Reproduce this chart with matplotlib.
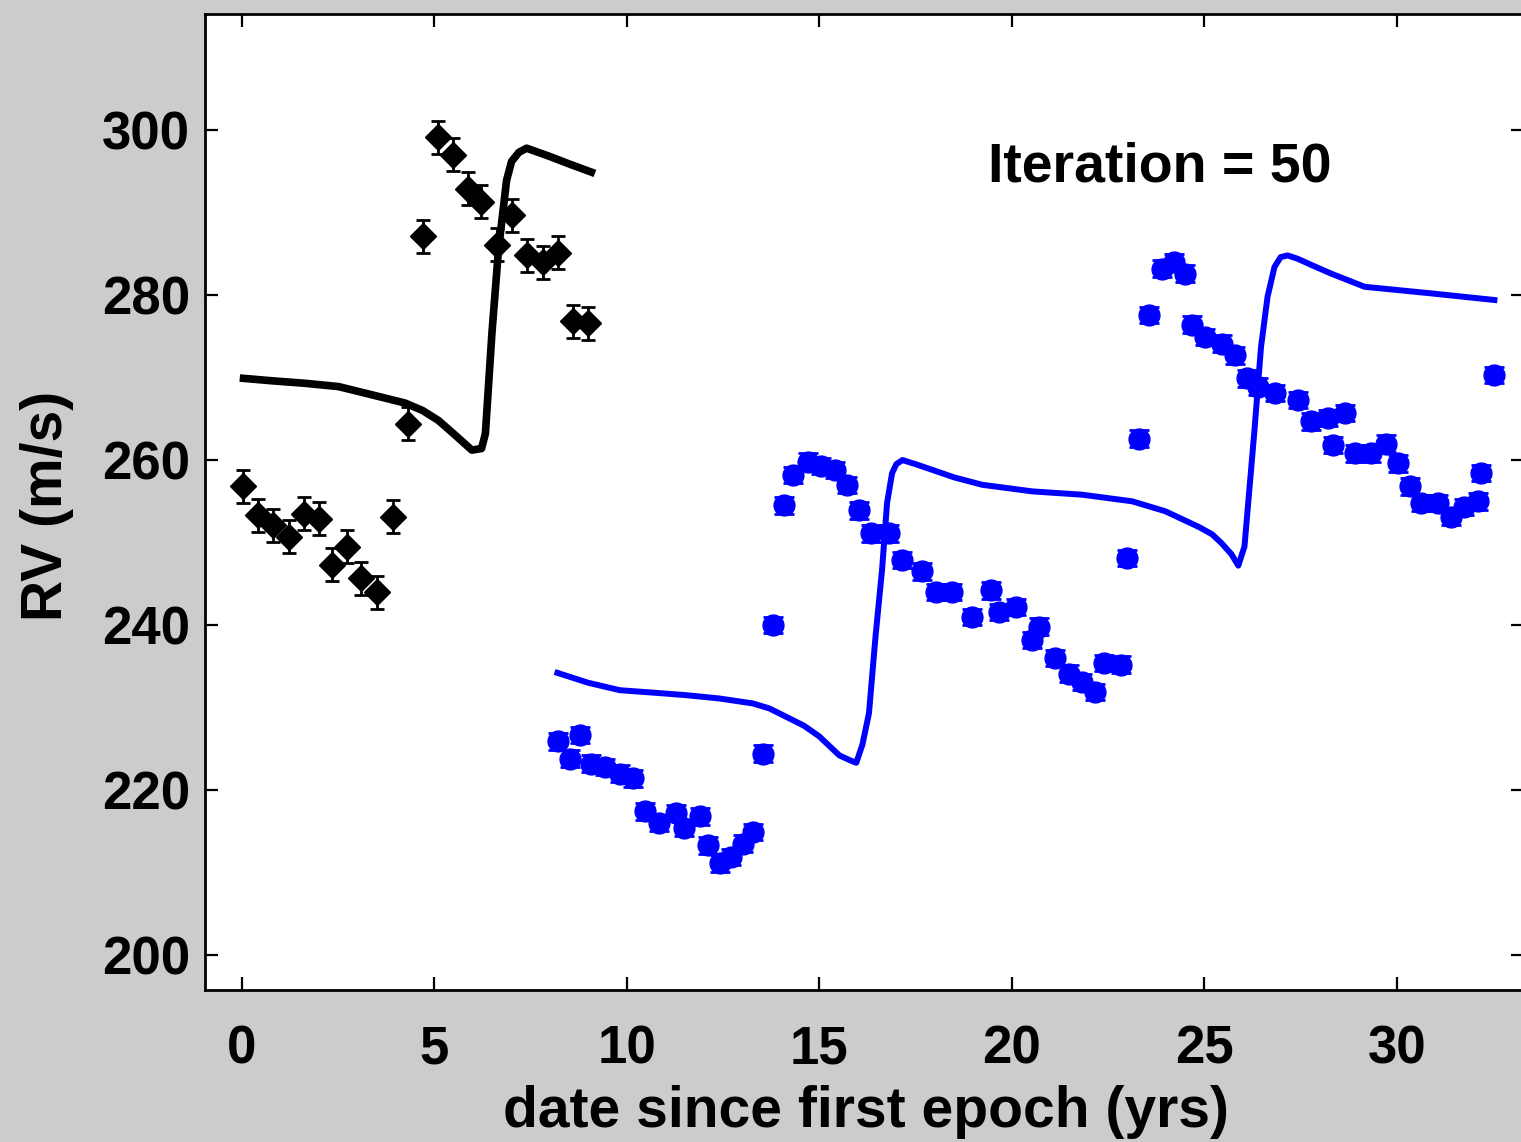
"""RV time series with model curve (Iteration = 50)."""

import matplotlib
matplotlib.use("Agg")
import matplotlib.pyplot as plt

# ── data ───────────────────────────────────────────────────────────────
black_t = [0.03, 0.43, 0.82, 1.23, 1.63, 2.00, 2.35, 2.74, 3.10, 3.51, 3.92, 4.31,
           4.71, 5.11, 5.50, 5.89, 6.22, 6.62, 7.01, 7.40, 7.83, 8.22, 8.61, 9.00]
black_rv = [256.8, 253.3, 252.1, 250.7, 253.5, 252.9, 247.3, 249.5, 245.7, 244.0, 253.1, 264.4,
            287.1, 299.1, 297.0, 292.9, 291.3, 286.1, 289.7, 284.8, 284.0, 285.1, 276.8, 276.6]
black_err = [2.0, 2.0, 2.0, 2.0, 2.0, 2.0, 2.0, 2.0, 2.0, 2.0, 2.0, 2.0,
             2.0, 2.0, 2.0, 2.0, 2.0, 2.0, 2.0, 2.0, 2.0, 2.0, 2.0, 2.0]

black_model_t = [0.05, 0.80, 1.65, 2.52, 3.39, 4.25, 4.70, 5.11, 5.55, 5.98, 6.23, 6.33, 6.50,
                 6.67, 6.88, 7.01, 7.20, 7.40, 8.00, 8.50, 9.08]
black_model_rv = [269.9, 269.6, 269.3, 268.9, 267.9, 266.9, 266.0, 264.8, 263.0, 261.2, 261.4,
                  263.2, 275.4, 285.5, 293.9, 296.2, 297.3, 297.8, 296.8, 295.9, 294.9]

blue_t = [8.22, 8.52, 8.78, 9.08, 9.43, 9.82, 10.16, 10.47, 10.85, 11.29, 11.50, 11.89,
          12.11, 12.41, 12.71, 13.01, 13.27, 13.53, 13.79, 14.09, 14.31, 14.70, 15.05, 15.40,
          15.73, 16.04, 16.34, 16.81, 17.16, 17.68, 18.02, 18.45, 18.97, 19.45, 19.66, 20.10,
          20.53, 20.70, 21.13, 21.48, 21.82, 22.17, 22.40, 22.83, 22.99, 23.29, 23.55, 23.90,
          24.20, 24.50, 24.67, 25.02, 25.45, 25.80, 26.10, 26.40, 26.83, 27.44, 27.78, 28.21,
          28.34, 28.64, 28.90, 29.33, 29.72, 30.03, 30.33, 30.63, 31.06, 31.41, 31.75, 32.10,
          32.19, 32.53]
blue_rv = [225.9, 223.8, 226.7, 223.2, 222.8, 222.0, 221.4, 217.4, 216.0, 217.2, 215.4, 216.8,
           213.3, 211.1, 211.9, 213.5, 214.9, 224.4, 240.0, 254.5, 258.2, 259.8, 259.3, 258.8,
           257.0, 253.9, 251.1, 251.1, 247.9, 246.5, 244.0, 244.0, 241.0, 244.2, 241.6, 242.2,
           238.2, 239.8, 236.0, 234.1, 233.1, 231.9, 235.4, 235.2, 248.1, 262.6, 277.6, 283.2,
           284.0, 282.6, 276.4, 274.9, 274.1, 272.7, 269.9, 268.9, 268.1, 267.3, 264.7, 265.1,
           261.8, 265.7, 260.8, 260.8, 262.0, 259.6, 256.8, 254.8, 254.8, 253.1, 254.3, 255.0,
           258.4, 270.3]
blue_err = [1.0, 1.0, 1.0, 1.0, 1.0, 1.0, 1.0, 1.0, 1.0, 1.0, 1.0, 1.0,
            1.0, 1.0, 1.0, 1.0, 1.0, 1.0, 1.0, 1.0, 1.0, 1.0, 1.0, 1.0,
            1.0, 1.0, 1.0, 1.0, 1.0, 1.0, 1.0, 1.0, 1.0, 1.0, 1.0, 1.0,
            1.0, 1.0, 1.0, 1.0, 1.0, 1.0, 1.0, 1.0, 1.0, 1.0, 1.0, 1.0,
            1.0, 1.0, 1.0, 1.0, 1.0, 1.0, 1.0, 1.0, 1.0, 1.0, 1.0, 1.0,
            1.0, 1.0, 1.0, 1.0, 1.0, 1.0, 1.0, 1.0, 1.0, 1.0, 1.0, 1.0,
            1.0, 1.0]

blue_model_t = [8.20, 9.00, 9.82, 10.70, 11.54, 12.40, 13.27, 13.70, 14.13, 14.60, 15.00,
                15.52, 15.80, 15.96, 16.12, 16.29, 16.46, 16.63, 16.76, 16.89, 17.00, 17.16,
                17.50, 17.94, 18.50, 19.23, 20.53, 21.82, 23.12, 23.98, 24.85, 25.20, 25.45,
                25.70, 25.88, 26.04, 26.30, 26.47, 26.64, 26.82, 26.98, 27.16, 27.42, 27.80,
                28.29, 29.16, 30.89, 32.53]
blue_model_rv = [234.2, 233.0, 232.1, 231.8, 231.5, 231.1, 230.5, 229.9, 228.9, 227.8, 226.5,
                 224.2, 223.6, 223.3, 225.5, 229.3, 238.6, 246.7, 254.8, 258.4, 259.5, 260.0,
                 259.5, 258.8, 257.9, 257.0, 256.2, 255.8, 255.0, 253.8, 251.9, 251.0, 249.9,
                 248.6, 247.2, 249.5, 263.6, 273.7, 279.8, 283.4, 284.6, 284.8, 284.4, 283.6,
                 282.6, 281.0, 280.2, 279.4]

x_ticks = [0, 5, 10, 15, 20, 25, 30]
y_ticks = [200, 220, 240, 260, 280, 300]
annotation = "Iteration = 50"

# ── figure ─────────────────────────────────────────────────────────────
plt.rcParams["font.family"] = ["Liberation Sans", "DejaVu Sans"]
plt.rcParams["font.weight"] = "bold"

fig = plt.figure(figsize=(15.21, 11.42), dpi=100, facecolor="#cccccc")
ax = fig.add_axes([0.1348, 0.1331, 0.8672, 0.8546])
ax.set_facecolor("white")

ax.plot(black_model_t, black_model_rv, color="black", lw=5.5, zorder=2)
ax.errorbar(black_t, black_rv, yerr=black_err, fmt="D", color="black", ms=13,
            elinewidth=2, capsize=5, capthick=2, zorder=3)

ax.plot(blue_model_t, blue_model_rv, color="#0000ff", lw=4.3, zorder=2)
ax.errorbar(blue_t, blue_rv, yerr=blue_err, fmt="o", color="#0000ff", ms=15,
            elinewidth=2, capsize=7, capthick=2, zorder=3)

ax.text(23.85, 295.5, annotation, fontsize=40, fontweight="bold", ha="center", va="center")

ax.set_xlim(-0.95, 33.3)
ax.set_ylim(195.76, 314.06)
ax.set_xticks(x_ticks)
ax.set_yticks(y_ticks)

for side in ax.spines.values():
    side.set_linewidth(2)
ax.tick_params(direction="in", length=9.5, width=1.6, top=True, right=True, labelsize=38)
ax.tick_params(axis="x", pad=25)
ax.tick_params(axis="y", pad=11)
for lbl in ax.get_xticklabels() + ax.get_yticklabels():
    lbl.set_fontweight("bold")

ax.set_xlabel("date since first epoch (yrs)", fontsize=41, fontweight="bold", va="center")
ax.set_ylabel("RV (m/s)", fontsize=41, fontweight="bold", va="center")
ax.xaxis.set_label_coords(0.501, -0.125)
ax.yaxis.set_label_coords(-0.1195, 0.496)

fig.savefig("out.png", dpi=100, facecolor=fig.get_facecolor())
